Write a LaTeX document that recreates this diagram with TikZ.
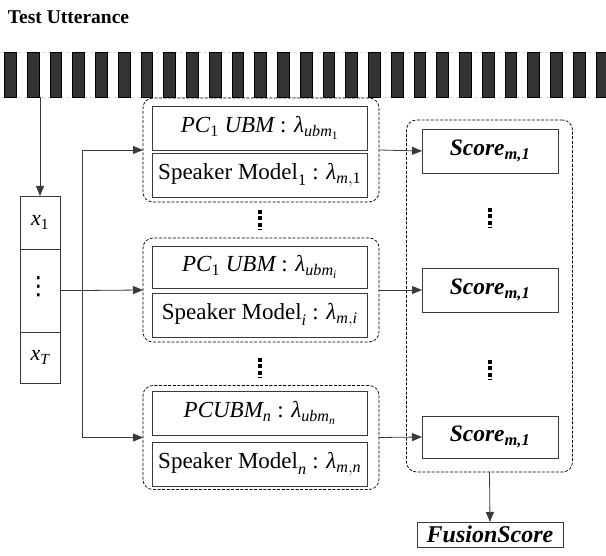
\documentclass[tikz,border=0pt]{standalone}
\usepackage{amsmath}
\usepackage{fontspec}
\setmainfont{Liberation Serif}
\newfontfamily\dotsfont{DejaVu Sans}
\usetikzlibrary{arrows.meta,calc}

% italic text inside math
\newcommand{\mi}[1]{\text{\itshape #1}}
% spaced colon between a model name and its parameters
\newcommand{\sep}{\text{ : }}

\definecolor{bargrey}{HTML}{333333}
\definecolor{linegrey}{HTML}{3A3A3A}

\begin{document}
\begin{tikzpicture}[x=1pt,y=-1pt,
  every node/.style={inner sep=0pt, outer sep=0pt},
  framebar/.style={draw=black, fill=bargrey, line width=0.5pt,
    minimum width=11.7pt, minimum height=45pt},
  cell/.style={draw=linegrey, line width=0.8pt, minimum width=40pt,
    font=\fontsize{22}{24}\selectfont},
  group/.style={draw=black, dashed, dash pattern=on 3pt off 1.6pt,
    rounded corners=10pt, line width=0.7pt},
  model/.style={draw=linegrey, line width=0.9pt, minimum width=214.5pt,
    minimum height=44pt, font=\fontsize{23}{26}\selectfont},
  scorebox/.style={draw=linegrey, line width=0.9pt, minimum width=136pt,
    minimum height=44pt, font=\fontsize{23.5}{26}\selectfont\bfseries\itshape},
  gap/.style={line width=3.6pt, dash pattern=on 4pt off 2.4pt, draw=black},
  link/.style={draw=linegrey, line width=0.8pt},
  arrow/.style={link, -{Triangle[length=10pt,width=8pt]}}
]
\useasboundingbox (0,0) rectangle (606,556);

% title
\node[anchor=base west, font=\fontsize{19.5}{22}\selectfont\bfseries]
  (title) at (8,24) {Test Utterance};

% frame strip of the utterance
\draw[draw=gray!30, dashed, line width=0.5pt] (0,52) -- (606,52) (0,97) -- (606,97);
\foreach \k in {0,...,26}
  \node[framebar] (b\k) at ({10.15+22.75*\k},74.5) {};

% feature vectors
\node[cell, minimum height=53pt] (x1) at (40,222.5) {$\mi{x}_{\text{1}}$};
\node[cell, minimum height=83pt] (xd) at (40,290.5) {};
\node[font=\fontsize{25}{26}\selectfont\dotsfont] (xdots) at (38.5,287) {⋮};
\node[cell, minimum height=51pt] (xT) at (40,357.5) {$\mi{x}_{\mi{T}}$};

% model groups
\node[group, minimum width=236pt, minimum height=104pt] (g1) at (261,150) {};
\node[model] (u1) at (259.75,128) {$\mi{PC}_{\text{1}}\ \mi{UBM}\sep\mi{λ}_{\mi{ubm}_{\text{1}}}$};
\node[model, minimum height=44pt] (s1) at (259.75,175) {$\text{Speaker Model}_{\text{1}}\sep\mi{λ}_{\mi{m},\text{1}}$};

\node[group, minimum width=236pt, minimum height=104pt] (g2) at (261,290) {};
\node[model, minimum height=42pt] (u2) at (259.75,267) {$\mi{PC}_{\text{1}}\ \mi{UBM}\sep\mi{λ}_{\mi{ubm}_{\mi{i}}}$};
\node[model] (s2) at (259.75,315) {$\text{Speaker Model}_{\mi{i}}\sep\mi{λ}_{\mi{m},\mi{i}}$};

\node[group, minimum width=236pt, minimum height=104pt] (g3) at (261,437.5) {};
\node[model] (u3) at (259.75,413) {$\mi{PCUBM}_{\mi{n}}\sep\mi{λ}_{\mi{ubm}_{\mi{n}}}$};
\node[model] (s3) at (259.75,464) {$\text{Speaker Model}_{\mi{n}}\sep\mi{λ}_{\mi{m},\mi{n}}$};

\coordinate (ga) at (260,210);
\coordinate (gb) at (260,230);
\coordinate (gc) at (260,358);
\coordinate (gd) at (260,378);
\draw[gap] (ga) -- (gb);
\draw[gap] (gc) -- (gd);

% scores
\node[group, minimum width=166pt, minimum height=352pt] (sg) at (489.5,296) {};
\node[scorebox] (sc1) at (490,151) {Score\textsubscript{m,1}};
\node[scorebox] (sc2) at (490,290) {Score\textsubscript{m,1}};
\node[scorebox, minimum height=42pt] (sc3) at (490,437) {Score\textsubscript{m,1}};

\coordinate (sa) at (490,208);
\coordinate (sb) at (490,228);
\coordinate (sc) at (490,360);
\coordinate (sd) at (490,380);
\draw[gap] (sa) -- (sb);
\draw[gap] (sc) -- (sd);

\node[draw=linegrey, line width=0.9pt, minimum width=146pt, minimum height=25pt,
  font=\fontsize{24}{26}\selectfont\bfseries\itshape] (fs) at (490,534.5) {FusionScore};

% connectors
\draw[arrow] (x1.north |- b1.south) -- (x1.north);
\coordinate (j) at (82,290.5);
\draw[link, line width=1.3pt] (xd.east) -- (j);
\draw[link] (j |- g1.west) -- (j |- g3.west);
\draw[arrow] (j |- g1.west) -- (g1.west);
\draw[arrow] (j) -- (g2.west);
\draw[arrow] (j |- g3.west) -- (g3.west);
\draw[arrow] (g1.east) -- (sc1.west);
\draw[arrow] (g2.east) -- (sc2.west);
\draw[arrow] (g3.east) -- (sc3.west);
\draw[arrow] (sg.south) -- (fs.north);
\end{tikzpicture}
\end{document}
